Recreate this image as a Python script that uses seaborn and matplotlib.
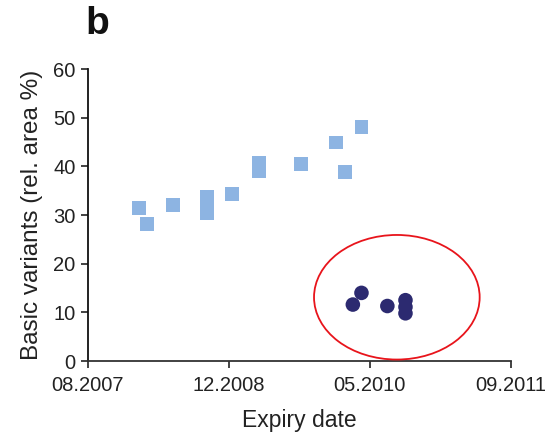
import matplotlib
matplotlib.use("Agg")
import matplotlib.pyplot as plt
from matplotlib.patches import Ellipse
import seaborn as sns
import pandas as pd
import numpy as np

# Expiry date expressed as months after 08.2007
squares_month = [5.9, 6.8, 9.9, 13.8, 13.8, 13.8, 16.7, 19.8, 19.8, 24.7, 28.7, 29.8, 31.7]
squares_value = [31.5, 28.1, 32.0, 33.8, 32.0, 30.3, 34.4, 40.6, 39.1, 40.4, 44.9, 38.9, 48.0]

circles_month = [30.7, 31.7, 34.7, 36.8, 36.8, 36.8]
circles_value = [11.6, 14.0, 11.3, 12.5, 11.1, 9.8]

x_tick_labels = ["08.2007", "12.2008", "05.2010", "09.2011"]
x_span_months = 49
y_ticks = [0, 10, 20, 30, 40, 50, 60]

sq = pd.DataFrame({"month": squares_month, "value": squares_value})
ci = pd.DataFrame({"month": circles_month, "value": circles_value})

sns.set_style("ticks")
plt.rcParams["font.family"] = ["Liberation Sans", "DejaVu Sans"]

fig = plt.figure(figsize=(5.51, 4.36), dpi=100)
ax = fig.add_axes([0.1597, 0.172, 0.9269 - 0.1597, 0.8417 - 0.172])

sns.scatterplot(data=sq, x="month", y="value", marker="s", s=100, color="#8DB4E2",
                edgecolor="none", linewidth=0, ax=ax, zorder=3)
sns.scatterplot(data=ci, x="month", y="value", marker="o", s=110, color="#2C2A70",
                edgecolor="none", linewidth=0, ax=ax, zorder=3)

ell = Ellipse((35.8, 13.1), width=19.2, height=25.6, fill=False, edgecolor="#E8141B",
              linewidth=1.3, clip_on=False, zorder=4)
ax.add_patch(ell)

ax.set_xlim(0, x_span_months)
ax.set_ylim(0, 60)
ax.set_xticks(np.linspace(0, x_span_months, len(x_tick_labels)))
ax.set_xticklabels(x_tick_labels)
ax.set_yticks(y_ticks)
ax.set_yticklabels([str(v) for v in y_ticks])

ax.tick_params(axis="both", labelsize=14.5, colors="#222222", length=5, width=1.2,
               direction="out", pad=4)
ax.tick_params(axis="x", pad=6)
for side in ["top", "right"]:
    ax.spines[side].set_visible(False)
ax.spines["left"].set_color("#111111")
ax.spines["bottom"].set_color("#333333")
ax.spines["left"].set_linewidth(1.3)
ax.spines["bottom"].set_linewidth(1.3)

ax.set_xlabel("Expiry date", fontsize=16.5, color="#222222", labelpad=10)
ax.set_ylabel("Basic variants (rel. area %)", fontsize=17.5, color="#222222", labelpad=7)

fig.text(85 / 551, 1 - 6 / 436, "b", fontsize=28, fontweight="bold", ha="left", va="top",
         color="#111111")

fig.savefig("out.png", dpi=100)
